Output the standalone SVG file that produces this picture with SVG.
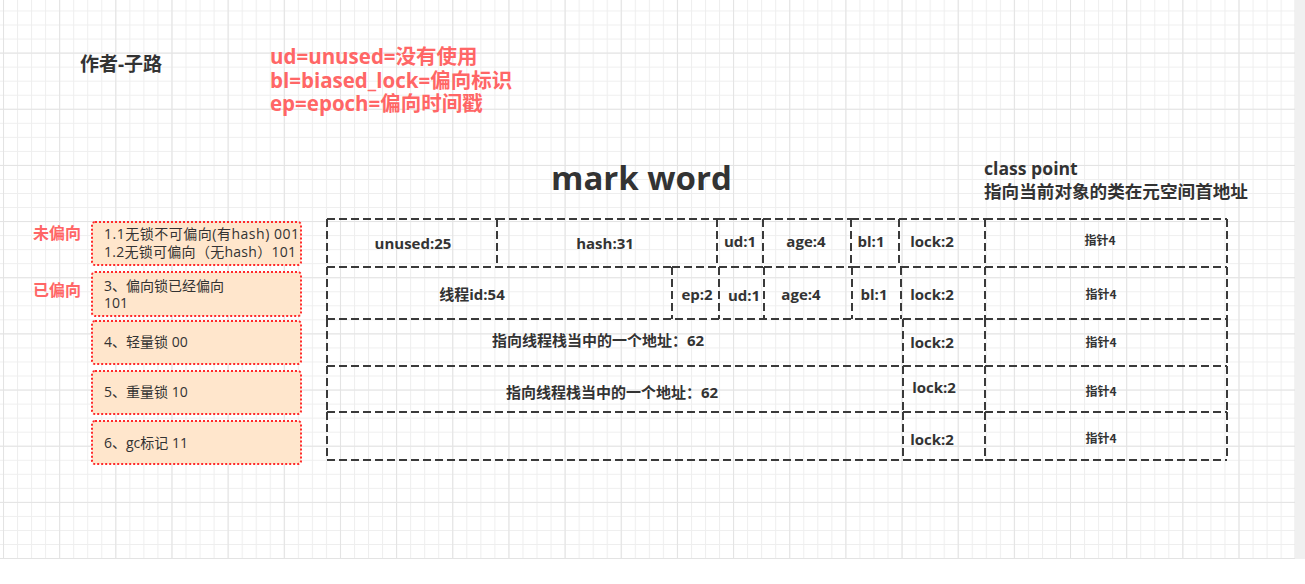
<svg xmlns="http://www.w3.org/2000/svg" width="1305" height="584" viewBox="0 0 1305 584">
  <defs>
    <pattern id="gMinor" width="14.04" height="14.04" patternUnits="userSpaceOnUse" x="3" y="10.5">
      <path d="M0 0.5 H14.04 M0.5 0 V14.04" fill="none" stroke="#eeeeee" stroke-width="1"/>
    </pattern>
    <pattern id="gMajor" width="56.16" height="56.16" patternUnits="userSpaceOnUse" x="3" y="52.6">
      <path d="M0 0.5 H56.16 M0.5 0 V56.16" fill="none" stroke="#e3e3e3" stroke-width="1"/>
    </pattern>
    <style>
      .cell { fill: none; stroke: #3a3a3a; stroke-width: 2; stroke-dasharray: 8 4; }
      .box { fill: #ffe6cc; stroke: #ff2a2a; stroke-width: 2; stroke-dasharray: 2 2; }
      .t { font-family: "Open Sans", "Noto Sans CJK SC", sans-serif; fill: #333333; font-weight: bold; font-size: 15px; text-anchor: middle; }
      .ptr { font-family: "Noto Sans CJK SC", sans-serif; fill: #333333; font-weight: bold; font-size: 12px; text-anchor: middle; }
      .bt { font-family: "Open Sans", "Noto Sans CJK SC", sans-serif; fill: #333333; font-size: 14px; }
      .red { font-family: "Open Sans", "Noto Sans CJK SC", sans-serif; fill: #ff6666; font-weight: bold; }
      .dark { font-family: "Open Sans", "Noto Sans CJK SC", sans-serif; fill: #333333; font-weight: bold; }
    </style>
  </defs>

  <rect x="0" y="0" width="1305" height="584" fill="#ffffff"/>
  <rect x="0" y="0" width="1295" height="559" fill="url(#gMinor)"/>
  <rect x="0" y="0" width="1295" height="559" fill="url(#gMajor)"/>
  <rect x="1295" y="0" width="10" height="559" fill="#f0f0f0"/>

  <g id="author"><text class="dark" x="80" y="71" font-size="19">作者-子路</text></g>
  <g id="legend">
    <text class="red" font-size="20.5"><tspan x="270" y="64">ud=unused=没有使用</tspan><tspan x="270" y="87.5">bl=biased_lock=偏向标识</tspan><tspan x="270" y="111">ep=epoch=偏向时间戳</tspan></text>
  </g>
  <g id="title-markword"><text class="dark" x="551" y="190" font-size="33">mark word</text></g>
  <g id="title-classpoint">
    <text class="dark" font-size="17.6" font-weight="600"><tspan x="984" y="175">class point</tspan><tspan x="984" y="198">指向当前对象的类在元空间首地址</tspan></text>
  </g>

  <g id="label-unbiased"><text class="red" x="33" y="239" font-size="16">未偏向</text></g>
  <g id="label-biased"><text class="red" x="33" y="296" font-size="16">已偏向</text></g>

  <g id="state-1">
    <rect class="box" x="92" y="222" width="209" height="43" rx="3"/>
    <text class="bt" x="104" y="239" font-size="14.5" textLength="195" lengthAdjust="spacing">1.1无锁不可偏向(有hash) 001</text>
    <text class="bt" x="104" y="257" font-size="14.5" textLength="192" lengthAdjust="spacing">1.2无锁可偏向（无hash）101</text>
  </g>
  <g id="state-3">
    <rect class="box" x="92" y="272" width="209" height="44" rx="3"/>
    <text class="bt" x="104" y="291">3、偏向锁已经偏向</text>
    <text class="bt" x="104" y="308">101</text>
  </g>
  <g id="state-4">
    <rect class="box" x="92" y="321" width="209" height="43" rx="3"/>
    <text class="bt" x="104" y="347">4、轻量锁 00</text>
  </g>
  <g id="state-5">
    <rect class="box" x="92" y="371" width="209" height="43" rx="3"/>
    <text class="bt" x="104" y="397">5、重量锁 10</text>
  </g>
  <g id="state-6">
    <rect class="box" x="92" y="421" width="209" height="43" rx="3"/>
    <text class="bt" x="104" y="448">6、gc标记 11</text>
  </g>

  <!-- row 1 (y 219-267) -->
  <g id="r1-unused"><path class="cell" d="M327 219 H497 M327 219 V267"/><text class="t" x="413" y="249">unused:25</text></g>
  <g id="r1-hash"><path class="cell" d="M497 219 H717 M497 219 V267"/><text class="t" x="605" y="249">hash:31</text></g>
  <g id="r1-ud"><path class="cell" d="M717 219 H763 M717 219 V267"/><text class="t" x="740" y="247">ud:1</text></g>
  <g id="r1-age"><path class="cell" d="M763 219 H851 M763 219 V267"/><text class="t" x="806" y="247">age:4</text></g>
  <g id="r1-bl"><path class="cell" d="M851 219 H899 M851 219 V267"/><text class="t" x="871" y="247">bl:1</text></g>
  <g id="r1-lock"><path class="cell" d="M899 219 H985 M899 219 V267"/><text class="t" x="932" y="247">lock:2</text></g>
  <g id="r1-ptr"><path class="cell" d="M985 219 H1227 M985 219 V267 M1227 219 V267"/><text class="ptr" x="1100" y="245">指针4</text></g>

  <!-- row 2 (y 267-319) -->
  <g id="r2-tid"><path class="cell" d="M327 267 H672 M327 267 V319"/><text class="t" x="472" y="300">线程id:54</text></g>
  <g id="r2-ep"><path class="cell" d="M672 267 H719 M672 267 V319"/><text class="t" x="697" y="300">ep:2</text></g>
  <g id="r2-ud"><path class="cell" d="M719 267 H764 M719 267 V319"/><text class="t" x="744" y="301">ud:1</text></g>
  <g id="r2-age"><path class="cell" d="M764 267 H852 M764 267 V319"/><text class="t" x="801" y="300">age:4</text></g>
  <g id="r2-bl"><path class="cell" d="M852 267 H901 M852 267 V319"/><text class="t" x="874" y="300">bl:1</text></g>
  <g id="r2-lock"><path class="cell" d="M901 267 H985 M901 267 V319"/><text class="t" x="932" y="300">lock:2</text></g>
  <g id="r2-ptr"><path class="cell" d="M985 267 H1227 M985 267 V319 M1227 267 V319"/><text class="ptr" x="1101" y="299">指针4</text></g>

  <!-- row 3 (y 319-366) -->
  <g id="r3-addr"><path class="cell" d="M327 319 H903 M327 319 V366"/><text class="t" x="598" y="346">指向线程栈当中的一个地址：62</text></g>
  <g id="r3-lock"><path class="cell" d="M903 319 H985 M903 319 V366"/><text class="t" x="932" y="348">lock:2</text></g>
  <g id="r3-ptr"><path class="cell" d="M985 319 H1227 M985 319 V366 M1227 319 V366"/><text class="ptr" x="1101" y="347">指针4</text></g>

  <!-- row 4 (y 366-412) -->
  <g id="r4-addr"><path class="cell" d="M327 366 H903 M327 366 V412"/><text class="t" x="612" y="398">指向线程栈当中的一个地址：62</text></g>
  <g id="r4-lock"><path class="cell" d="M903 366 H985 M903 366 V412"/><text class="t" x="934" y="393">lock:2</text></g>
  <g id="r4-ptr"><path class="cell" d="M985 366 H1227 M985 366 V412 M1227 366 V412"/><text class="ptr" x="1101" y="396">指针4</text></g>

  <!-- row 5 (y 412-460) -->
  <g id="r5-empty"><path class="cell" d="M327 412 H903 M327 412 V460 M327 460 H903"/></g>
  <g id="r5-lock"><path class="cell" d="M903 412 H985 M903 412 V460 M903 460 H985"/><text class="t" x="932" y="445">lock:2</text></g>
  <g id="r5-ptr"><path class="cell" d="M985 412 H1227 M985 412 V460 M1227 412 V460 M985 460 H1227"/><text class="ptr" x="1101" y="443">指针4</text></g>

  <g id="connectors"/>
</svg>
